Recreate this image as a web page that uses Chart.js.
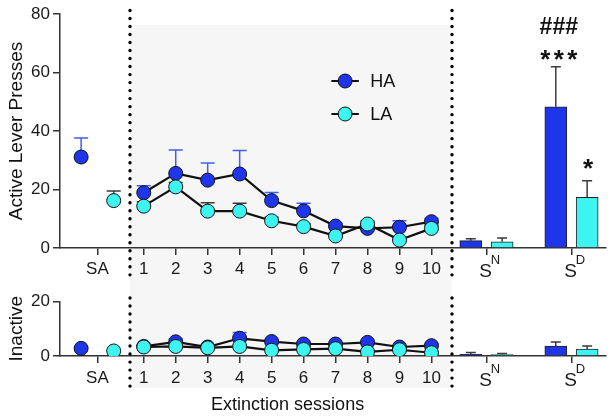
<!DOCTYPE html>
<html><head><meta charset="utf-8">
<script src="https://cdn.jsdelivr.net/npm/chart.js@4.4.1/dist/chart.umd.min.js"></script>
<style>
html,body{margin:0;padding:0;background:#fff;}
#wrap{position:relative;width:614px;height:418px;overflow:hidden;}
canvas{position:absolute;left:0;}
#c1{top:0}
#c2{top:290px}
</style></head><body>
<div id="wrap"><canvas id="c1" width="614" height="290"></canvas><canvas id="c2" width="614" height="128"></canvas></div>
<script>
// ---------- DATA ----------
const groups = ['HA', 'LA'];
const sessionLabels = ['1','2','3','4','5','6','7','8','9','10'];
const saLabel = 'SA';
const probeBase = ['S', 'S'];
const probeSup = ['N', 'D'];
const xTitle = 'Extinction sessions';
const activeTitle = 'Active Lever Presses';
const inactiveTitle = 'Inactive';
const activeTicks = [0, 20, 40, 60, 80];
const inactiveTicks = [0, 20];

// Active lever presses
const haActiveSA = 31.1, haActiveSAErr = 6.5;
const laActiveSA = 16.2, laActiveSAErr = 3.3;
const haActive    = [18.9, 25.5, 23.2, 25.3, 16.2, 12.7, 7.5, 6.7, 7.1, 9.0];
const haActiveErr = [2.4, 8.0, 5.9, 8.0, 2.8, 2.6, 1.0, 1.0, 2.2, 1.1];
const laActive    = [14.3, 20.9, 12.6, 12.6, 9.3, 7.3, 4.1, 8.2, 2.7, 6.7];
const laActiveErr = [1.5, 1.5, 2.9, 2.7, 1.2, 1.0, 1.0, 1.0, 1.0, 1.0];
const haActiveProbe    = [2.5, 48.3];
const haActiveProbeErr = [0.7, 13.7];
const laActiveProbe    = [2.1, 17.3];
const laActiveProbeErr = [1.3, 5.7];

// Inactive lever presses
const haInactiveSA = 2.8, laInactiveSA = 1.85;
const haInactive    = [3.5, 5.2, 3.3, 6.5, 5.3, 4.4, 4.4, 5.0, 3.3, 3.8];
const haInactiveErr = [0.5, 1.0, 0.5, 2.1, 0.6, 0.8, 0.5, 0.5, 0.5, 0.5];
const laInactive    = [3.3, 3.5, 3.0, 3.5, 2.1, 2.4, 2.7, 1.5, 2.3, 1.2];
const laInactiveErr = [0.4, 0.4, 0.4, 0.4, 0.4, 0.4, 0.4, 0.4, 0.4, 0.4];
const haInactiveProbe    = [0.6, 3.6];
const haInactiveProbeErr = [0.7, 1.5];
const laInactiveProbe    = [0.5, 2.5];
const laInactiveProbeErr = [0.4, 1.2];

// ---------- LAYOUT (x in session units) ----------
const X_MIN = -1.62, X_MAX = 15.46;
const SA_POS = -0.45, SA_OFF = 0.51;
const PROBE_POS = [11.72, 14.38], BAR_OFF = 0.49;
const DIV1 = 0.57, DIV2 = 10.63;
const HA_COLOR = '#1f35ea', LA_COLOR = '#3ef4f1';
const HA_ERR = '#3f5ff4', DARK_ERR = '#3a3a3a';
const FONT = "'Liberation Sans', Arial, Helvetica, sans-serif";
const sessionPos = sessionLabels.map((s, i) => i + 1);
const tickPositions = [SA_POS, ...sessionPos, ...PROBE_POS];

function buildDatasets(haSA, laSA, ha, haErr, la, laErr, haP, haPErr, laP, laPErr, haSAErr, laSAErr) {
  const pt = (color) => ({
    pointRadius: 7, pointHoverRadius: 7, pointBackgroundColor: color,
    pointBorderColor: '#111', pointBorderWidth: 1
  });
  return [
    Object.assign({ type: 'line', label: 'LA', order: 1, data: sessionPos.map((x, i) => ({x, y: la[i]})),
      errors: laErr, errColor: DARK_ERR, capHalf: 7, borderColor: '#111', borderWidth: 2.2, fill: false }, pt(LA_COLOR)),
    Object.assign({ type: 'line', label: 'HA', order: 2, data: sessionPos.map((x, i) => ({x, y: ha[i]})),
      errors: haErr, errColor: HA_ERR, capHalf: 7, borderColor: '#111', borderWidth: 2.2, fill: false }, pt(HA_COLOR)),
    Object.assign({ type: 'line', label: 'LA-SA', order: 3, showLine: false, data: [{x: SA_POS + SA_OFF, y: laSA}],
      errors: [laSAErr], errColor: DARK_ERR, capHalf: 7 }, pt(LA_COLOR)),
    Object.assign({ type: 'line', label: 'HA-SA', order: 4, showLine: false, data: [{x: SA_POS - SA_OFF, y: haSA}],
      errors: [haSAErr], errColor: HA_ERR, capHalf: 7 }, pt(HA_COLOR)),
    { type: 'bar', label: 'HA-probe', order: 5, grouped: false, barThickness: 22,
      data: PROBE_POS.map((p, i) => ({x: p - BAR_OFF, y: haP[i]})), errors: haPErr, errColor: DARK_ERR, capHalf: 5,
      backgroundColor: HA_COLOR, borderColor: '#222', borderWidth: 1 },
    { type: 'bar', label: 'LA-probe', order: 6, grouped: false, barThickness: 22,
      data: PROBE_POS.map((p, i) => ({x: p + BAR_OFF, y: laP[i]})), errors: laPErr, errColor: DARK_ERR, capHalf: 5,
      backgroundColor: LA_COLOR, borderColor: '#222', borderWidth: 1 }
  ];
}

function panelPlugin(o) {
  return {
    id: 'panel_' + o.name,
    beforeDraw(chart) {
      const {ctx, chartArea: ca, scales: {x}} = chart;
      const x0 = x.getPixelForValue(DIV1), x1 = x.getPixelForValue(DIV2);
      const t = o.grayTop(ca), b = o.grayBottom(ca, chart);
      ctx.save(); ctx.fillStyle = '#f6f6f6'; ctx.fillRect(x0, t, x1 - x0, b - t); ctx.restore();
    },
    beforeDatasetsDraw(chart) {
      const ctx = chart.ctx, y = chart.scales.y;
      chart.data.datasets.forEach((ds, i) => {
        if (!ds.errors) return;
        const meta = chart.getDatasetMeta(i);
        meta.data.forEach((el, j) => {
          const e = ds.errors[j]; if (!e) return;
          const v = ds.data[j].y;
          const px = el.x, py = y.getPixelForValue(v), pt = y.getPixelForValue(v + e);
          ctx.save(); ctx.strokeStyle = ds.errColor; ctx.lineWidth = 1.5;
          ctx.beginPath(); ctx.moveTo(px, py); ctx.lineTo(px, pt);
          ctx.moveTo(px - ds.capHalf, pt); ctx.lineTo(px + ds.capHalf, pt); ctx.stroke(); ctx.restore();
        });
      });
    },
    afterDraw(chart) {
      const {ctx, chartArea: ca, scales: {x, y}} = chart;
      ctx.save();
      // dotted dividers
      ctx.strokeStyle = '#000'; ctx.lineWidth = 3.4; ctx.lineCap = 'round'; ctx.setLineDash([0.01, 8]);
      [DIV1, DIV2].forEach(d => {
        const px = Math.round(x.getPixelForValue(d));
        ctx.beginPath(); ctx.moveTo(px, ca.top - 3.5); ctx.lineTo(px, ca.bottom + 32); ctx.stroke();
      });
      ctx.setLineDash([]);
      // x tick labels
      ctx.fillStyle = '#1a1a1a'; ctx.textAlign = 'center'; ctx.textBaseline = 'alphabetic';
      ctx.font = '17px ' + FONT;
      const base = ca.bottom + o.labelDy;
      ctx.fillText(saLabel, x.getPixelForValue(SA_POS), base);
      sessionLabels.forEach((s, i) => ctx.fillText(s, x.getPixelForValue(sessionPos[i]), base));
      PROBE_POS.forEach((p, i) => {
        ctx.font = '19px ' + FONT; const w1 = ctx.measureText(probeBase[i]).width;
        ctx.font = '13px ' + FONT; const w2 = ctx.measureText(probeSup[i]).width;
        const cx = x.getPixelForValue(p) + 3, left = cx - (w1 + w2 - 1.5) / 2;
        ctx.textAlign = 'left';
        ctx.font = '19px ' + FONT; ctx.fillText(probeBase[i], left, base + 3);
        ctx.font = '13px ' + FONT; ctx.fillText(probeSup[i], left + w1 - 1, base - 10.5);
        ctx.textAlign = 'center';
      });
      // y title
      ctx.save();
      ctx.translate(17, (ca.top + ca.bottom) / 2); ctx.rotate(-Math.PI / 2);
      ctx.font = '19px ' + FONT; ctx.textBaseline = 'middle'; ctx.fillStyle = '#111';
      ctx.fillText(o.yTitle, 0, 0);
      ctx.restore();
      if (o.extra) o.extra(chart, ctx, ca, x, y);
      ctx.restore();
    }
  };
}

function scalesFor(yMax, ticks, xHeight) {
  return {
    x: { type: 'linear', min: X_MIN, max: X_MAX, offset: false,
      afterBuildTicks: s => { s.ticks = tickPositions.map(v => ({value: v})); },
      ticks: { display: false },
      grid: { display: true, offset: false, drawOnChartArea: false, drawTicks: true, tickLength: 7, color: '#333', lineWidth: 1.5 },
      border: { display: true, color: '#333', width: 1.5 },
      afterFit: s => { s.height = xHeight; } },
    y: { type: 'linear', min: 0, max: yMax,
      afterBuildTicks: s => { s.ticks = ticks.map(v => ({value: v})); },
      ticks: { font: { size: 17, family: FONT, lineHeight: 1 }, color: '#1a1a1a', padding: 3 },
      grid: { display: true, offset: false, drawOnChartArea: false, drawTicks: true, tickLength: 7, color: '#333', lineWidth: 1.5 },
      border: { display: true, color: '#333', width: 1.5 },
      afterFit: s => { s.width = 60; } }
  };
}

const common = {
  responsive: false, animation: false, devicePixelRatio: 1,
  plugins: { legend: { display: false }, tooltip: { enabled: false } },
  events: []
};

// ---------- TOP CHART ----------
new Chart(document.getElementById('c1'), {
  type: 'line',
  data: { datasets: buildDatasets(haActiveSA, laActiveSA, haActive, haActiveErr, laActive, laActiveErr,
    haActiveProbe, haActiveProbeErr, laActiveProbe, laActiveProbeErr, haActiveSAErr, laActiveSAErr) },
  options: Object.assign({}, common, {
    layout: { padding: { top: 14, left: 0, right: 0, bottom: 0 } },
    scales: scalesFor(80, activeTicks, 42)
  }),
  plugins: [panelPlugin({
    name: 'top', yTitle: activeTitle, labelDy: 26,
    grayTop: ca => ca.top + 11, grayBottom: (ca, ch) => ch.height,
    extra(chart, ctx, ca, x, y) {
      // legend
      const colors = [HA_COLOR, LA_COLOR];
      groups.forEach((g, i) => {
        const ly = ca.top + 67 + i * 33, lx = x.getPixelForValue(7.3);
        ctx.strokeStyle = '#111'; ctx.lineWidth = 2;
        ctx.beginPath(); ctx.moveTo(lx - 13, ly); ctx.lineTo(lx + 13, ly); ctx.stroke();
        ctx.beginPath(); ctx.arc(lx, ly, 7, 0, Math.PI * 2); ctx.fillStyle = colors[i]; ctx.fill();
        ctx.lineWidth = 1; ctx.stroke();
        ctx.fillStyle = '#111'; ctx.font = '18px ' + FONT; ctx.textAlign = 'left'; ctx.textBaseline = 'middle';
        ctx.fillText(g, lx + 25, ly + 1);
      });
      // significance marks
      ctx.textBaseline = 'alphabetic'; ctx.textAlign = 'center'; ctx.fillStyle = '#111';
      const haX = x.getPixelForValue(PROBE_POS[1] - BAR_OFF) + 3;
      const laX = x.getPixelForValue(PROBE_POS[1] + BAR_OFF) + 1;
      const haCap = y.getPixelForValue(haActiveProbe[1] + haActiveProbeErr[1]);
      const laCap = y.getPixelForValue(laActiveProbe[1] + laActiveProbeErr[1]);
      ctx.font = 'bold 23px ' + FONT;
      ctx.fillText('###', haX, haCap - 33);
      ctx.font = 'bold 26px ' + FONT;
      [-13.5, 0, 13.5].forEach(d => ctx.fillText('*', haX + d, haCap + 1));
      ctx.fillText('*', laX, laCap - 4);
    }
  })]
});

// ---------- BOTTOM CHART ----------
new Chart(document.getElementById('c2'), {
  type: 'line',
  data: { datasets: buildDatasets(haInactiveSA, laInactiveSA, haInactive, haInactiveErr, laInactive, laInactiveErr,
    haInactiveProbe, haInactiveProbeErr, laInactiveProbe, laInactiveProbeErr, 0, 0) },
  options: Object.assign({}, common, {
    layout: { padding: { top: 8.7, left: 0, right: 0, bottom: 0 } },
    scales: scalesFor(20, inactiveTicks, 62)
  }),
  plugins: [panelPlugin({
    name: 'bottom', yTitle: inactiveTitle, labelDy: 27,
    grayTop: () => 0, grayBottom: ca => ca.bottom + 32,
    extra(chart, ctx, ca, x) {
      ctx.fillStyle = '#111'; ctx.font = '18px ' + FONT; ctx.textAlign = 'center'; ctx.textBaseline = 'alphabetic';
      ctx.fillText(xTitle, x.getPixelForValue(5.5), ca.bottom + 54);
    }
  })]
});
</script>
</body></html>
